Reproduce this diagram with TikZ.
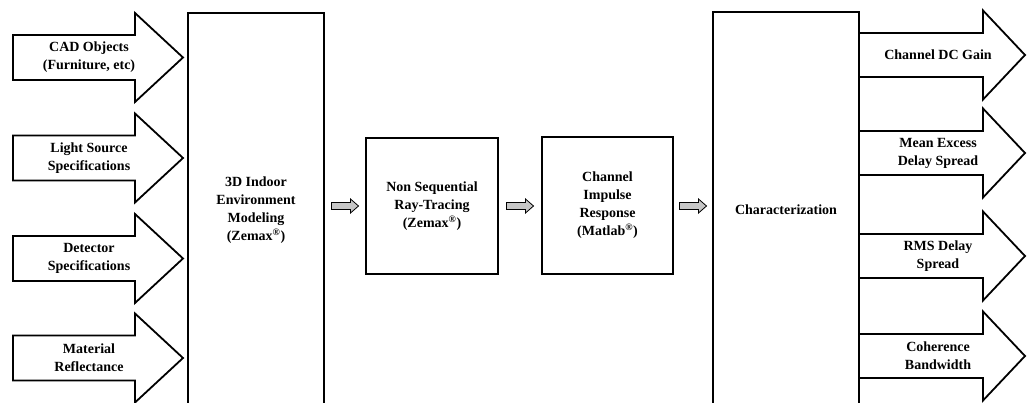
\documentclass[tikz,border=0pt]{standalone}
\usepackage{fontspec}
\setmainfont{Liberation Serif}
\usetikzlibrary{calc}
\newcommand{\regmark}{\textsuperscript{\textregistered}}
\begin{document}
\begin{tikzpicture}[x=1pt,y=-1pt,
  txt/.style={align=center, font=\fontsize{14}{18}\selectfont\bfseries, inner sep=0pt},
  box/.style={txt, draw, line width=1.8pt, fill=white},
  bigarrow/.style={draw, line width=1.8pt, line join=miter, fill=white},
  garrow/.style={draw, line width=0.8pt, line join=miter, fill=gray!45}]
\useasboundingbox (0,0) rectangle (1027,403);
\clip (0,0) rectangle (1027,403);
\fill[white] (0,0) rectangle (1027,403);

% input arrows
\foreach \c/\n in {57.5/i1,158/i2,258.5/i3,358/i4}{
  \draw[bigarrow] (13,\c-22.5) -- (135,\c-22.5) -- (135,\c-44.5) -- (183,\c)
     -- (135,\c+44.5) -- (135,\c+22.5) -- (13,\c+22.5) -- cycle;
  \coordinate (\n) at (89,\c);
}
\node[txt] (t1) at (i1) {CAD Objects\\(Furniture, etc)};
\node[txt] (t2) at (i2) {Light Source\\Specifications};
\node[txt] (t3) at (i3) {Detector\\Specifications};
\node[txt] (t4) at (i4) {Material\\Reflectance};

% output arrows
\foreach \c/\n in {55/o1,153/o2,256/o3,356/o4}{
  \draw[bigarrow] (859,\c-22) -- (983,\c-22) -- (983,\c-44.5) -- (1025,\c)
     -- (983,\c+44.5) -- (983,\c+22) -- (859,\c+22) -- cycle;
  \coordinate (\n) at (938,\c);
}
\node[txt] (u1) at (o1) {Channel DC Gain};
\node[txt] (u2) at (o2) {Mean Excess\\Delay Spread};
\node[txt] (u3) at (o3) {RMS Delay\\Spread};
\node[txt] (u4) at (o4) {Coherence\\Bandwidth};

% boxes
\node[box, minimum width=136pt, minimum height=394pt] (b1) at (256,210)
  {3D Indoor\\Environment\\Modeling\\(Zemax\regmark)};
\node[box, minimum width=132pt, minimum height=136pt] (b2) at (432,206)
  {Non Sequential\\Ray-Tracing\\(Zemax\regmark)};
\node[box, minimum width=131pt, minimum height=137pt] (b3) at (607.5,205.5)
  {Channel\\Impulse\\Response\\(Matlab\regmark)};
\node[box, minimum width=146pt, minimum height=396pt] (b4) at (786,210)
  {Characterization};

% small gray arrows between boxes
\foreach \a/\b in {b1/b2,b2/b3,b3/b4}{
  \coordinate (m) at ($(\a.east)!0.5!(\b.west)$);
  \draw[garrow] ($(m|-b2)+(-13.5,-3.5)$) -- ++(19,0) -- ++(0,-3.5) -- ++(8,7)
     -- ++(-8,7) -- ++(0,-3.5) -- ++(-19,0) -- cycle;
}
\end{tikzpicture}
\end{document}
